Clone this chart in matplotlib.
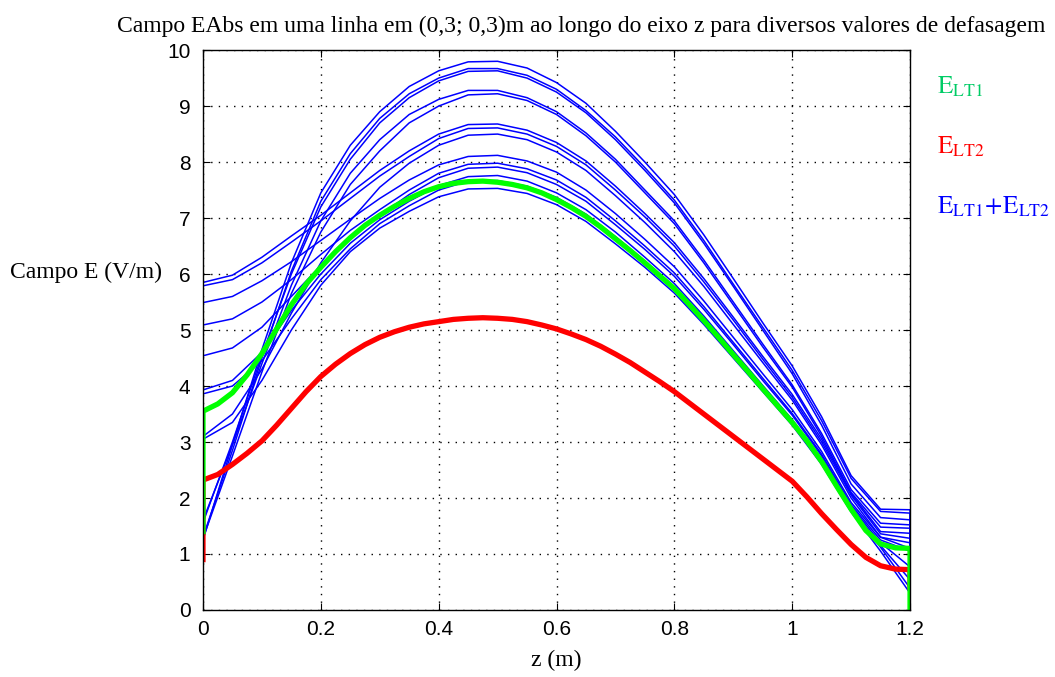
import numpy as np
import matplotlib
matplotlib.use("Agg")
import matplotlib.pyplot as plt

plt.rcParams['mathtext.fontset'] = 'stix'

# posições ao longo do eixo z (m) - passo fino para as linhas LT1 e LT2
z_fino = [0, 0.025, 0.05, 0.075, 0.1, 0.125, 0.15, 0.175, 0.2, 0.225, 0.25, 0.275, 0.3,
          0.325, 0.35, 0.375, 0.4, 0.425, 0.45, 0.475, 0.5, 0.525, 0.55, 0.575, 0.6,
          0.625, 0.65, 0.675, 0.7, 0.725, 0.75, 0.775, 0.8, 0.825, 0.85, 0.875, 0.9,
          0.925, 0.95, 0.975, 1.0, 1.025, 1.05, 1.075, 1.1, 1.125, 1.15, 1.175, 1.2]

# campo da linha 1 (verde) e linha 2 (vermelho)
e_lt1 = [3.55, 3.68, 3.88, 4.2, 4.58, 5.02, 5.45, 5.82, 6.12, 6.4, 6.65, 6.87, 7.05,
         7.21, 7.35, 7.47, 7.56, 7.62, 7.65, 7.66, 7.64, 7.6, 7.54, 7.45, 7.33,
         7.19, 7.03, 6.84, 6.63, 6.42, 6.2, 5.97, 5.74, 5.46, 5.17, 4.87, 4.56,
         4.26, 3.95, 3.65, 3.35, 3.02, 2.65, 2.22, 1.8, 1.42, 1.18, 1.11, 1.1]
e_lt2 = [2.32, 2.42, 2.6, 2.8, 3.02, 3.3, 3.6, 3.9, 4.17, 4.39, 4.58, 4.74, 4.87,
         4.97, 5.05, 5.11, 5.15, 5.19, 5.21, 5.22, 5.21, 5.19, 5.15, 5.09, 5.02,
         4.93, 4.83, 4.71, 4.57, 4.42, 4.25, 4.08, 3.9, 3.7, 3.5, 3.3, 3.1,
         2.9, 2.7, 2.5, 2.3, 2.02, 1.72, 1.44, 1.17, 0.94, 0.79, 0.73, 0.72]
# valores nas extremidades (z=0 e z=1.2)
lt1_ini, lt1_fim = 1.4, 0.0
lt2_ini, lt2_fim = 0.9, 0.4

# soma dos campos para diversos valores de defasagem
z = [0, 0.05, 0.1, 0.15, 0.2, 0.25, 0.3, 0.35, 0.4, 0.45, 0.5, 0.55, 0.6,
     0.65, 0.7, 0.75, 0.8, 0.85, 0.9, 0.95, 1.0, 1.05, 1.1, 1.15, 1.2]
soma = [
    [1.25, 2.95, 4.65, 6.2, 7.45, 8.3, 8.9, 9.35, 9.63, 9.79, 9.8, 9.68, 9.42,
     9.05, 8.55, 8.0, 7.42, 6.7, 5.92, 5.13, 4.36, 3.45, 2.4, 1.8, 1.79],
    [1.30, 2.85, 4.5, 6.05, 7.3, 8.15, 8.78, 9.22, 9.5, 9.67, 9.67, 9.55, 9.3,
     8.92, 8.45, 7.9, 7.32, 6.6, 5.82, 5.05, 4.28, 3.38, 2.35, 1.76, 1.73],
    [1.56, 3.0, 4.55, 6.0, 7.2, 8.05, 8.7, 9.15, 9.45, 9.62, 9.63, 9.5, 9.25,
     8.88, 8.4, 7.85, 7.27, 6.55, 5.78, 5.0, 4.22, 3.3, 2.25, 1.65, 1.61],
    [1.60, 2.95, 4.4, 5.8, 6.95, 7.8, 8.4, 8.85, 9.12, 9.28, 9.28, 9.15, 8.9,
     8.52, 8.05, 7.5, 6.95, 6.25, 5.5, 4.75, 4.02, 3.15, 2.15, 1.55, 1.52],
    [1.28, 2.75, 4.25, 5.65, 6.75, 7.6, 8.2, 8.7, 9.0, 9.2, 9.22, 9.1, 8.85,
     8.47, 8.0, 7.45, 6.9, 6.2, 5.45, 4.7, 3.98, 3.1, 2.1, 1.48, 1.46],
    [5.85, 5.98, 6.3, 6.68, 7.05, 7.45, 7.85, 8.2, 8.5, 8.67, 8.68, 8.57, 8.35,
     8.02, 7.57, 7.08, 6.56, 5.92, 5.23, 4.53, 3.85, 3.05, 2.08, 1.4, 1.37],
    [5.79, 5.9, 6.2, 6.57, 6.95, 7.35, 7.75, 8.1, 8.42, 8.6, 8.61, 8.5, 8.28,
     7.95, 7.5, 7.02, 6.5, 5.86, 5.18, 4.48, 3.8, 3.0, 2.05, 1.36, 1.28],
    [3.10, 3.5, 4.3, 5.3, 6.2, 6.95, 7.55, 7.98, 8.3, 8.48, 8.5, 8.4, 8.18,
     7.85, 7.4, 6.92, 6.4, 5.78, 5.1, 4.42, 3.75, 2.95, 2.0, 1.3, 1.1],
    [5.49, 5.6, 5.88, 6.22, 6.6, 6.98, 7.35, 7.68, 7.95, 8.1, 8.12, 8.02, 7.82,
     7.5, 7.08, 6.62, 6.13, 5.52, 4.87, 4.22, 3.58, 2.83, 1.92, 1.3, 1.2],
    [5.09, 5.2, 5.5, 5.9, 6.35, 6.78, 7.15, 7.5, 7.8, 7.96, 7.98, 7.88, 7.68,
     7.37, 6.95, 6.5, 6.02, 5.42, 4.78, 4.14, 3.51, 2.78, 1.88, 1.25, 1.05],
    [4.54, 4.68, 5.05, 5.6, 6.15, 6.65, 7.05, 7.42, 7.72, 7.89, 7.91, 7.81, 7.6,
     7.3, 6.88, 6.44, 5.96, 5.37, 4.74, 4.1, 3.48, 2.75, 1.85, 1.2, 0.77],
    [3.93, 4.1, 4.6, 5.35, 6.0, 6.55, 6.97, 7.3, 7.58, 7.74, 7.76, 7.66, 7.45,
     7.15, 6.75, 6.3, 5.83, 5.25, 4.63, 4.01, 3.4, 2.7, 1.82, 1.15, 0.54],
    [3.86, 4.0, 4.45, 5.2, 5.9, 6.45, 6.9, 7.22, 7.5, 7.66, 7.67, 7.57, 7.37,
     7.07, 6.67, 6.23, 5.77, 5.2, 4.58, 3.97, 3.37, 2.67, 1.8, 1.12, 0.39],
    [3.05, 3.35, 4.1, 5.0, 5.8, 6.4, 6.82, 7.12, 7.38, 7.52, 7.53, 7.44, 7.24,
     6.94, 6.54, 6.12, 5.66, 5.1, 4.5, 3.9, 3.3, 2.6, 1.75, 1.05, 0.3],
]
soma_fim = 0.9

fig = plt.figure(figsize=(10.55, 6.77), dpi=100)
ax = fig.add_axes([0.1924, 0.099, 0.6702, 0.827])

for s in soma:
    ax.plot(z + [z[-1]], s + [soma_fim], color='#0000ff', lw=1.1)
ax.plot([0] + z_fino + [1.2], [lt2_ini] + e_lt2 + [lt2_fim], color='#ff0000', lw=3.8)
ax.plot([0] + z_fino + [1.2], [lt1_ini] + e_lt1 + [lt1_fim], color='#00ff00', lw=3.8)

ax.set_xlim(0, 1.2)
ax.set_ylim(0, 10)
ax.set_xticks(np.arange(0, 1.21, 0.2))
ax.set_xticklabels(['0', '0.2', '0.4', '0.6', '0.8', '1', '1.2'])
ax.set_yticks(range(0, 11))
ax.tick_params(direction='in', length=5, top=True, right=True, labelsize=15)
ax.tick_params(axis='y', pad=9)
ax.tick_params(axis='x', pad=7)
for lab in ax.get_xticklabels() + ax.get_yticklabels():
    lab.set_family(['Liberation Sans', 'DejaVu Sans'])
ax.grid(True, color='black', linestyle=(0, (1, 4.5)), linewidth=1.0)
for sp in ax.spines.values():
    sp.set_linewidth(1.0)

serif = ['Liberation Serif', 'DejaVu Serif']
fig.text(0.551, 0.961, 'Campo EAbs em uma linha em (0,3; 0,3)m ao longo do eixo z para diversos valores de defasagem',
         ha='center', va='center', fontsize=17, family=serif)
fig.text(0.0095, 0.598, 'Campo E (V/m)', ha='left', va='center', fontsize=17, family=serif)
fig.text(0.527, 0.025, 'z (m)', ha='center', va='center', fontsize=17, family=serif)

fig.text(0.888, 0.872, r'$\mathrm{E_{LT1}}$', color='#00cc66', fontsize=18, va='center')
fig.text(0.888, 0.783, r'$\mathrm{E_{LT2}}$', color='#ff0000', fontsize=18, va='center')
fig.text(0.888, 0.694, r'$\mathrm{E_{LT1}\!+\!E_{LT2}}$', color='#0000ff', fontsize=18, va='center')

fig.savefig('out.png', dpi=100)
